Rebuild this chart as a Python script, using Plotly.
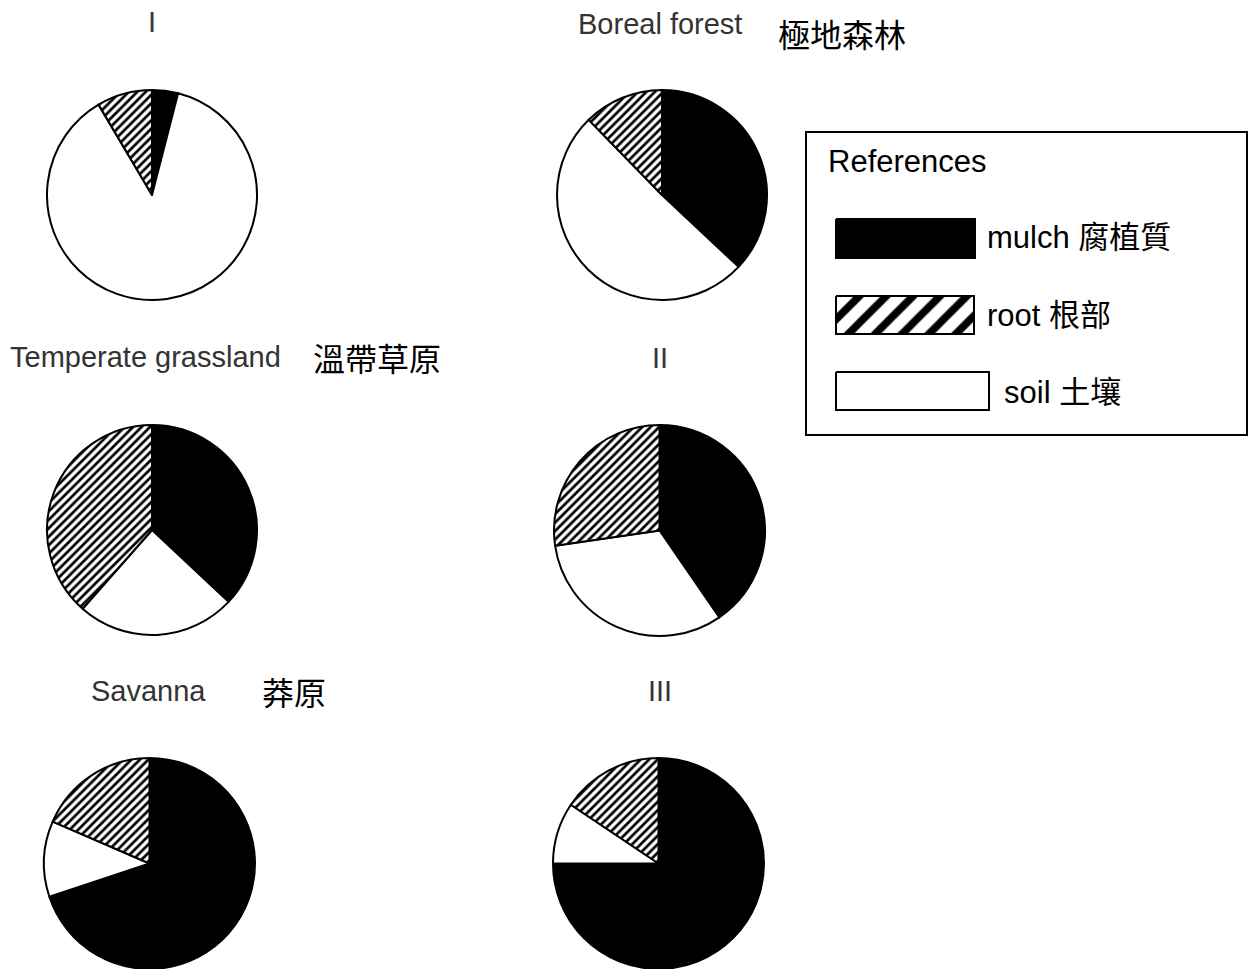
import plotly.graph_objects as go

W, H = 1249, 969

components = ["mulch", "soil", "root"]
comp_labels = ["mulch 腐植質", "root 根部", "soil 土壤"]
comp_colors = {"mulch": "black", "soil": "white", "root": "white"}
comp_patterns = {"mulch": "", "soil": "", "root": "/"}

pie_titles = ["I", "Boreal forest", "Temperate grassland", "II", "Savanna", "III"]
pie_titles_zh = ["", "極地森林", "溫帶草原", "", "莽原", ""]

# percentages: mulch, soil, root (clockwise from 12 o'clock)
pie_I = [4.0, 87.5, 8.5]
pie_boreal = [37.0, 50.7, 12.3]
pie_temperate = [37.0, 24.5, 38.5]
pie_II = [40.4, 32.3, 27.3]
pie_savanna = [69.9, 11.6, 18.5]
pie_III = [75.0, 9.4, 15.6]
pie_values = [pie_I, pie_boreal, pie_temperate, pie_II, pie_savanna, pie_III]

# pixel boxes (left, top, size) for each pie
pie_boxes = [(47, 90, 210), (557, 90, 210), (47, 425, 210),
             (554, 425, 211), (44, 758, 211), (553, 758, 211)]

def clamp(v):
    return min(1.0, max(0.0, v))

fig = go.Figure()

for vals, (l, t, s) in zip(pie_values, pie_boxes):
    fig.add_trace(go.Pie(
        labels=components,
        values=vals,
        sort=False,
        direction="clockwise",
        rotation=0,
        textinfo="none",
        showlegend=False,
        marker=dict(
            colors=[comp_colors[c] for c in components],
            line=dict(color="black", width=2),
            pattern=dict(
                shape=[comp_patterns[c] for c in components],
                fgcolor="black",
                bgcolor="white",
                fgopacity=1,
                size=6,
                solidity=0.45,
            ),
        ),
        domain=dict(x=[clamp(l / W), clamp((l + s) / W)],
                    y=[clamp(1 - (t + s) / H), clamp(1 - t / H)]),
    ))

# legend swatches drawn on hidden pixel axes
swatches = [
    ("black", "", 836, 219, 975, 258),
    ("white", "/", 836, 296, 974, 334),
    ("white", "", 836, 372, 989, 410),
]
for color, pat, x0, y0, x1, y1 in swatches:
    kw = {}
    if pat:
        kw["fillpattern"] = dict(shape=pat, fgcolor="black", bgcolor="white",
                                 fgopacity=1, size=19, solidity=0.4)
    fig.add_trace(go.Scatter(
        x=[x0, x1, x1, x0, x0], y=[y0, y0, y1, y1, y0],
        mode="lines", fill="toself",
        fillcolor=color,
        line=dict(color="black", width=2),
        hoverinfo="skip", showlegend=False,
        xaxis="x", yaxis="y", **kw,
    ))

fig.update_layout(
    width=W, height=H,
    margin=dict(l=0, r=0, t=0, b=0),
    paper_bgcolor="white", plot_bgcolor="rgba(0,0,0,0)",
    xaxis=dict(range=[0, W], visible=False, fixedrange=True, domain=[0, 1]),
    yaxis=dict(range=[H, 0], visible=False, fixedrange=True, domain=[0, 1]),
    showlegend=False,
)

# legend box
fig.add_shape(type="rect", xref="x", yref="y", x0=806, y0=132, x1=1247, y1=435,
              line=dict(color="black", width=2), fillcolor="rgba(0,0,0,0)", layer="below")

latin = "Liberation Sans, Arial, sans-serif"
cjk = "Noto Sans CJK TC, sans-serif"
title_color = "#333333"

def ann(text, x, y, size, font, color="black", xanchor="center"):
    fig.add_annotation(text=text, x=x, y=y, xref="x", yref="y", showarrow=False,
                       xanchor=xanchor, yanchor="middle",
                       font=dict(family=font, size=size, color=color))

# pie titles
title_pos = [(152, 22, "center"), (576, 24, "left"), (8, 357, "left"),
             (660, 358, "center"), (89, 691, "left"), (660, 691, "center")]
zh_pos = [None, (776, 33), (311, 357), None, (260, 691), None]
for txt, (x, y, xa), zh, zp in zip(pie_titles, title_pos, pie_titles_zh, zh_pos):
    ann(txt, x, y, 29, latin, title_color, xa)
    if zh:
        ann(zh, zp[0], zp[1], 32, cjk, "black", "left")

# legend texts
ann("References", 826, 161, 31, latin, "black", "left")
label_pos = [(985, 237), (985, 315), (1002, 392)]
for lab, (x, y) in zip(comp_labels, label_pos):
    ann(lab, x, y, 31, latin + ", " + cjk, "black", "left")

fig.write_html("out.html")
